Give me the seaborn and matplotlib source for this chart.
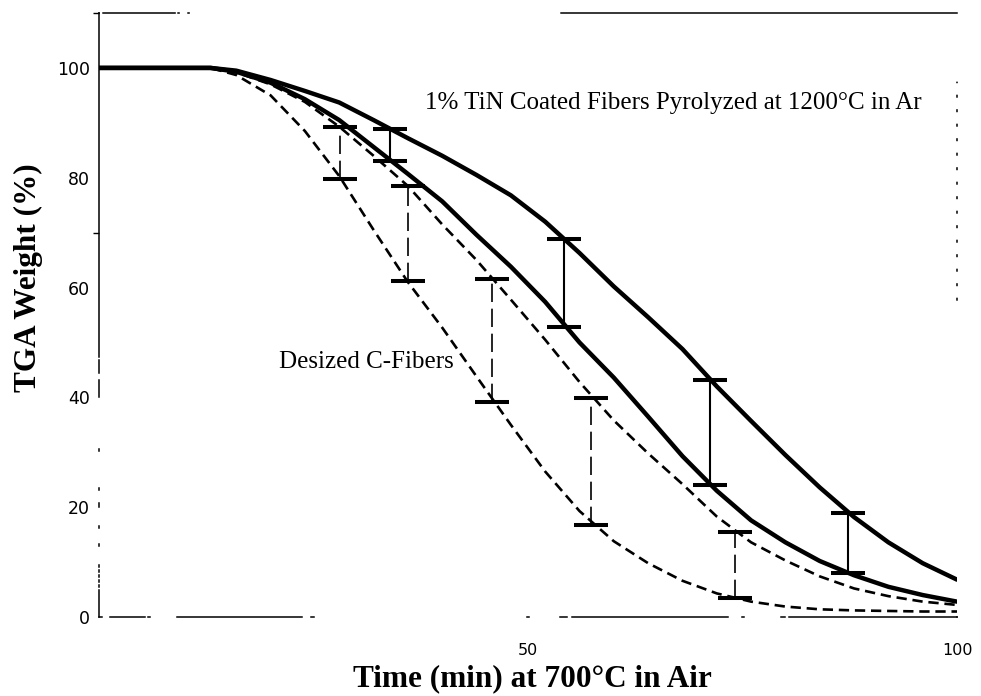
import matplotlib
matplotlib.use("Agg")
import matplotlib.pyplot as plt
import numpy as np
import pandas as pd
import seaborn as sns

# --- TGA weight-loss curves at 700 °C in air (weight %, read per minute mark) ---
time_min = [0, 5, 10, 13, 16, 20, 24, 28, 32, 36, 40, 44, 48, 52, 56, 60,
            64, 68, 72, 76, 80, 84, 88, 92, 96, 100]
tin_upper = [100, 100, 100, 100, 99.5, 97.8, 95.8, 93.7, 90.5, 87.2, 84.0, 80.5,
             76.8, 72.0, 66.3, 60.2, 54.6, 48.8, 42.0, 35.7, 29.5, 23.6, 18.2,
             13.6, 9.8, 6.8]
tin_lower = [100, 100, 100, 100, 99.3, 97.3, 94.3, 90.5, 85.6, 80.7, 75.7, 69.6,
             63.8, 57.4, 50.0, 43.6, 36.5, 29.3, 23.0, 17.6, 13.6, 10.2, 7.6,
             5.5, 4.0, 2.8]
desized_upper = [100, 100, 100, 100, 99.2, 97.0, 93.8, 89.3, 84.0, 78.5, 71.5,
                 65.0, 57.8, 50.5, 42.8, 35.8, 29.8, 24.2, 18.3, 13.6, 10.3, 7.4,
                 5.2, 3.8, 2.8, 2.2]
desized_lower = [100, 100, 100, 100, 98.7, 95.0, 88.5, 80.3, 70.5, 61.0, 52.7,
                 43.8, 35.0, 26.5, 19.3, 13.8, 9.8, 6.6, 4.3, 2.8, 1.9, 1.4, 1.2,
                 1.1, 1.0, 1.0]

# scatter range bars between the bounding curves
tin_bar_time = [33.9, 54.2, 71.2, 87.3]
tin_bar_high = [88.9, 68.9, 43.2, 19.0]
tin_bar_low = [83.1, 52.9, 24.1, 8.0]
desized_bar_time = [28.1, 36.0, 45.8, 57.3, 74.1]
desized_bar_high = [89.2, 78.5, 61.5, 39.9, 15.4]
desized_bar_low = [79.7, 61.2, 39.1, 16.8, 3.4]

y_ticks = [0, 20, 40, 60, 80, 100]
y_tick_marks = [0, 20, 70, 100, 110]
x_ticks = [50, 100]
x_tick_labels = ["50", "100"]

label_tin = "1% TiN Coated Fibers Pyrolyzed at 1200°C in Ar"
label_desized = "Desized C-Fibers"

# --- long-form table for seaborn ---
curves = {
    "tin_upper": tin_upper,
    "tin_lower": tin_lower,
    "desized_upper": desized_upper,
    "desized_lower": desized_lower,
}
df = pd.concat(
    [pd.DataFrame({"Time": time_min, "Weight": v, "Curve": k}) for k, v in curves.items()],
    ignore_index=True,
)

sns.set_style("white")
plt.rcParams["font.family"] = ["DejaVu Sans"]
plt.rcParams["text.color"] = "black"

W, H = 981, 696
fig = plt.figure(figsize=(W / 100, H / 100), dpi=100)
ax_l, ax_r, ax_b, ax_t = 99, 957, 617, 13
ax = fig.add_axes([ax_l / W, 1 - ax_b / H, (ax_r - ax_l) / W, (ax_b - ax_t) / H])

dash = (3.9, 2.2)
sns.lineplot(
    data=df, x="Time", y="Weight", hue="Curve", style="Curve", size="Curve",
    palette={k: "black" for k in curves},
    dashes={"tin_upper": "", "tin_lower": "", "desized_upper": dash, "desized_lower": dash},
    sizes={"tin_upper": 3.2, "tin_lower": 3.2, "desized_upper": 1.9, "desized_lower": 1.9},
    estimator=None, sort=False, legend=False, ax=ax,
)

# range bars with wide flat caps
def range_bars(t, lo, hi, lw, ls):
    lo = np.asarray(lo)
    hi = np.asarray(hi)
    mid = (lo + hi) / 2
    half = (hi - lo) / 2
    _, caps, cols = ax.errorbar(t, mid, yerr=half, fmt="none", ecolor="black",
                                elinewidth=lw, capsize=12.5, capthick=2.9, zorder=4)
    for c in cols:
        c.set_linestyle(ls)

range_bars(tin_bar_time, tin_bar_low, tin_bar_high, 1.5, "-")
range_bars(desized_bar_time, desized_bar_low, desized_bar_high, 1.2, (0, (11, 4)))

ax.set_xlim(0, 100)
ax.set_ylim(0, 110)
ax.set_yticks(y_ticks)
ax.set_yticks(y_tick_marks, minor=True)
ax.set_xticks(x_ticks)
ax.set_xticklabels(x_tick_labels)
ax.tick_params(axis="y", which="major", length=0, pad=6.5, labelsize=12.5,
               labelcolor="black", left=True)
ax.tick_params(axis="y", which="minor", direction="out", length=4, width=1,
               color="black", left=True)
ax.tick_params(axis="x", length=0, pad=19, labelsize=11.5, labelcolor="black")

serif = ["Liberation Serif", "DejaVu Serif"]
ax.set_xlabel("Time (min) at 700°C in Air", fontsize=22.5, fontweight="bold",
              family=serif, va="center", color="black")
ax.xaxis.set_label_coords((532 - ax_l) / (ax_r - ax_l), -(679 - ax_b) / (ax_b - ax_t))
ax.set_ylabel("TGA Weight (%)", fontsize=22.5, fontweight="bold", family=serif,
              va="center", color="black")
ax.yaxis.set_label_coords(-(ax_l - 28) / (ax_r - ax_l), (ax_b - 278) / (ax_b - ax_t))

ax.text(38.0, 93.6, label_tin, fontsize=18, family=serif, ha="left", va="center",
        color="black")
ax.text(21.0, 46.5, label_desized, fontsize=18, family=serif, ha="left", va="center",
        color="black")


# broken frame lines, lengths given in pixels along each spine
def px_dashes(seq, lw):
    return (0, tuple(max(v, 0.05) * 0.72 / lw for v in seq))

spine_lw = 1.1
left_seq = [27, 3, 2, 3, 2, 3, 2, 3, 2, 3, 2, 19, 2, 16, 2, 19, 4, 13, 2, 37, 2, 52,
            17, 7, 13, 3, 400, 1]
bottom_seq = [3, 8, 35, 3, 2, 27, 125, 9, 3, 213, 2, 31, 7, 5, 156, 14, 2, 37, 4, 4, 175, 1]
top_seq = [0.05, 4, 72, 3, 1, 9, 1, 372, 400, 1]
right_seq = [0.05, 317] + [1.5, 13] * 24

for name, seq in [("left", left_seq), ("bottom", bottom_seq), ("top", top_seq),
                  ("right", right_seq)]:
    sp = ax.spines[name]
    sp.set_visible(True)
    sp.set_color("black")
    sp.set_linewidth(spine_lw)
    sp.set_linestyle(px_dashes(seq, spine_lw))

fig.savefig("out.png", dpi=100, facecolor="white")
